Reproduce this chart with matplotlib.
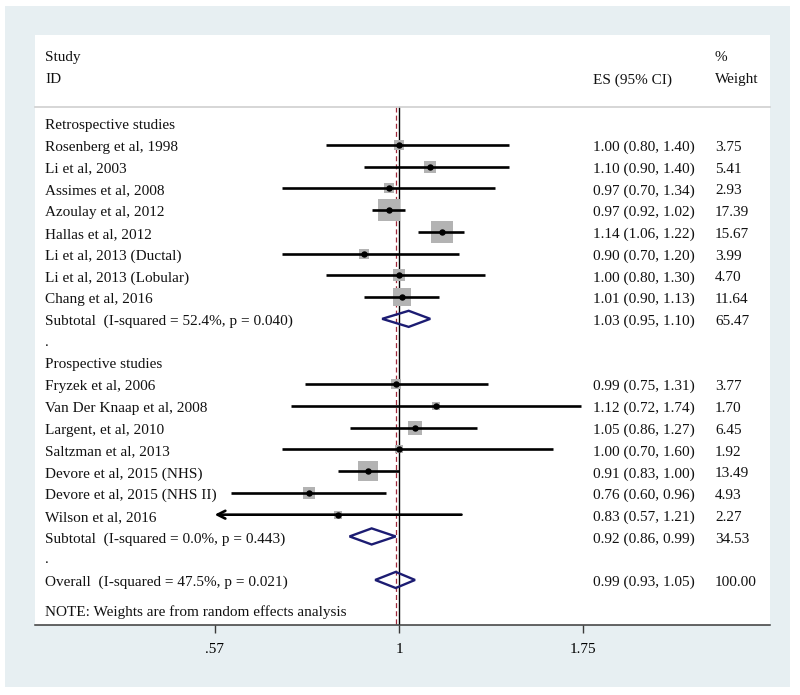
import numpy as np
import matplotlib
matplotlib.use("Agg")
import matplotlib.pyplot as plt
from matplotlib.patches import Rectangle, Polygon
import matplotlib.transforms as mtransforms

plt.rcParams['font.family'] = ['Liberation Serif', 'DejaVu Serif']

# ---------------- data ----------------
retro_names = ["Rosenberg et al, 1998", "Li et al, 2003", "Assimes et al, 2008",
               "Azoulay et al, 2012", "Hallas et al, 2012", "Li et al, 2013 (Ductal)",
               "Li et al, 2013 (Lobular)", "Chang et al, 2016"]
retro_es = [1.00, 1.10, 0.97, 0.97, 1.14, 0.90, 1.00, 1.01]
retro_lo = [0.80, 0.90, 0.70, 0.92, 1.06, 0.70, 0.80, 0.90]
retro_hi = [1.40, 1.40, 1.34, 1.02, 1.22, 1.20, 1.30, 1.13]
retro_w = [3.75, 5.41, 2.93, 17.39, 15.67, 3.99, 4.70, 11.64]

pros_names = ["Fryzek et al, 2006", "Van Der Knaap et al, 2008", "Largent, et al, 2010",
              "Saltzman et al, 2013", "Devore et al, 2015 (NHS)", "Devore et al, 2015 (NHS II)",
              "Wilson et al, 2016"]
pros_es = [0.99, 1.12, 1.05, 1.00, 0.91, 0.76, 0.83]
pros_lo = [0.75, 0.72, 0.86, 0.70, 0.83, 0.60, 0.57]
pros_hi = [1.31, 1.74, 1.27, 1.60, 1.00, 0.96, 1.21]
pros_w = [3.77, 1.70, 6.45, 1.92, 13.49, 4.93, 2.27]

group_labels = ["Retrospective studies", "Prospective studies"]
sub_labels = ["Subtotal  (I-squared = 52.4%, p = 0.040)",
              "Subtotal  (I-squared = 0.0%, p = 0.443)"]
sub_es = [1.03, 0.92]
sub_lo = [0.95, 0.86]
sub_hi = [1.10, 0.99]
sub_w = [65.47, 34.53]

overall_label = "Overall  (I-squared = 47.5%, p = 0.021)"
overall_es, overall_lo, overall_hi, overall_w = 0.99, 0.93, 1.05, 100.00

xticks = [0.57, 1.0, 1.75]
xtick_labels = [".57", "1", "1.75"]
note = "NOTE: Weights are from random effects analysis"

# ---------------- figure ----------------
W, H = 800, 695
fig = plt.figure(figsize=(W / 100, H / 100), dpi=100, facecolor="white")

def px_rect(x0, y0, x1, y1, color):
    fig.patches.append(Rectangle((x0 / W, 1 - y1 / H), (x1 - x0) / W, (y1 - y0) / H,
                                 transform=fig.transFigure, facecolor=color,
                                 edgecolor="none", zorder=-10))

px_rect(5, 6, 790, 687, "#e7eff2")

# axes covering white panel: x 35..770 px, y 35..625 px
ax_l, ax_r, ax_t, ax_b = 35, 770, 35, 625
ax = fig.add_axes([ax_l / W, 1 - ax_b / H, (ax_r - ax_l) / W, (ax_b - ax_t) / H])
ax.set_facecolor("white")
ax.set_xscale("log")
pxlog = 328.0
x1px = 399.0
ax.set_xlim(np.exp((ax_l - x1px) / pxlog), np.exp((ax_r - x1px) / pxlog))
row_px = 21.76
row0 = 123.0
ax.set_ylim((ax_b - row0) / row_px, (ax_t - row0) / row_px)

for s in ["top", "left", "right"]:
    ax.spines[s].set_visible(False)
ax.spines["bottom"].set_color("#3a3a3a")
ax.spines["bottom"].set_linewidth(1.1)
ax.set_yticks([])
ax.set_xticks(xticks)
ax.set_xticklabels(xtick_labels)
ax.xaxis.set_minor_locator(matplotlib.ticker.NullLocator())
ax.tick_params(axis="x", length=6, width=1, color="#3a3a3a", labelsize=11, pad=7)

fs = 11
tr = mtransforms.blended_transform_factory(ax.transAxes, ax.transData)
x_name = (45 - ax_l) / (ax_r - ax_l)
x_es = (593 - ax_l) / (ax_r - ax_l)
x_wt = (715 - ax_l) / (ax_r - ax_l)
t_off = 0.12

def txt(x, y, s, off=t_off):
    ax.text(x, y + off, s, transform=tr, fontsize=fs, va="center", ha="left",
            color="#111111")

# headers
y_study = (58 - row0) / row_px
y_id = (80 - row0) / row_px
txt(x_name, y_study, "Study", 0)
txt(x_name, y_id, "ID", 0)
txt(x_es, y_id, "ES (95% CI)", 0)
txt(x_wt, y_study, "%", 0)
txt(x_wt, y_id, "Weight", 0)
y_sep = (107 - row0) / row_px
ax.plot([0, 1], [y_sep, y_sep], transform=tr, color="#cfcfcf", lw=1.2, clip_on=False)

# reference lines
ax.plot([1, 1], [y_sep, ax.get_ylim()[0]], color="black", lw=1.0, zorder=1)
ax.plot([overall_es, overall_es], [y_sep, ax.get_ylim()[0]], color="#a0283a", lw=0.9,
        dashes=(4, 2.5), zorder=1)

xmin_plot = xticks[0]

def study_row(y, name, es, lo, hi, w):
    txt(x_name, y, name)
    txt(x_es, y, f"{es:.2f} ({lo:.2f}, {hi:.2f})")
    txt(x_wt, y, f"{w:.2f}")
    ax.scatter([es], [y], s=15.7 * w, marker="s", color="#b3b3b3", linewidths=0, zorder=3)
    if lo <= xmin_plot:
        ax.annotate("", xy=(lo, y), xytext=(hi, y),
                    arrowprops=dict(arrowstyle="->", lw=1.9, color="black",
                                    mutation_scale=14, shrinkA=0, shrinkB=0), zorder=4)
    else:
        ax.plot([lo, hi], [y, y], color="black", lw=1.9, zorder=4, solid_capstyle="butt")
    ax.plot([es], [y], "o", color="black", ms=3.6, zorder=5)

def diamond_row(y, name, es, lo, hi, w):
    txt(x_name, y, name)
    txt(x_es, y, f"{es:.2f} ({lo:.2f}, {hi:.2f})")
    txt(x_wt, y, f"{w:.2f}")
    hh = 0.37
    poly = Polygon([(lo, y), (es, y - hh), (hi, y), (es, y + hh)], closed=True,
                   facecolor="none", edgecolor="#1c1c72", lw=1.7, zorder=6)
    ax.add_patch(poly)

y = 0
txt(x_name, y, group_labels[0])
y += 1
for n, e, l, h, w in zip(retro_names, retro_es, retro_lo, retro_hi, retro_w):
    study_row(y, n, e, l, h, w)
    y += 1
diamond_row(y, sub_labels[0], sub_es[0], sub_lo[0], sub_hi[0], sub_w[0])
y += 1
txt(x_name, y - 0.05, ".")
y += 1
txt(x_name, y, group_labels[1])
y += 1
for n, e, l, h, w in zip(pros_names, pros_es, pros_lo, pros_hi, pros_w):
    study_row(y, n, e, l, h, w)
    y += 1
diamond_row(y, sub_labels[1], sub_es[1], sub_lo[1], sub_hi[1], sub_w[1])
y += 1
txt(x_name, y - 0.05, ".")
y += 1
diamond_row(y, overall_label, overall_es, overall_lo, overall_hi, overall_w)
y_note = (612 - row0) / row_px
txt(x_name, y_note, note, 0)

fig.savefig("out.png", dpi=100, facecolor="white")
